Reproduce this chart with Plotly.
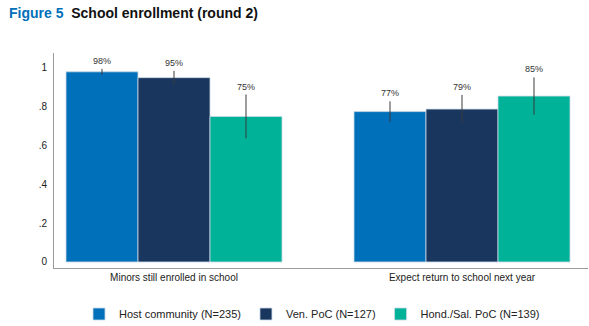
import plotly.graph_objects as go

categories = ["Minors still enrolled in school", "Expect return to school next year"]
series_names = ["Host community (N=235)", "Ven. PoC (N=127)", "Hond./Sal. PoC (N=139)"]
host_values = [0.98, 0.775]
ven_values = [0.95, 0.788]
hond_values = [0.75, 0.855]
host_err = [0.015, 0.053]
ven_err = [0.035, 0.073]
hond_err = [0.113, 0.096]
labels = [["98%", "77%"], ["95%", "79%"], ["75%", "85%"]]
y_ticks = [0, 0.2, 0.4, 0.6, 0.8, 1]
y_ticktext = ["0", ".2", ".4", ".6", ".8", "1"]

colors = ["#0070BA", "#19365E", "#00B398"]
values = [host_values, ven_values, hond_values]
errs = [host_err, ven_err, hond_err]

FONT = "Liberation Sans, Arial, sans-serif"
bargap = 0.25
xpos = list(range(len(categories)))

fig = go.Figure()
for i, name in enumerate(series_names):
    fig.add_trace(go.Bar(
        x=xpos, y=values[i], name=name,
        marker=dict(color=colors[i], line=dict(color="#c9d8e6", width=0.8)),
        error_y=dict(type="data", array=errs[i], visible=True,
                     color="#3a3a3a", thickness=1, width=0),
    ))

n = len(series_names)
bw = (1 - bargap) / n
for i in range(n):
    for j, xv in enumerate(xpos):
        fig.add_annotation(
            x=xv + (i - (n - 1) / 2) * bw, y=values[i][j] + errs[i][j],
            text=labels[i][j], showarrow=False, yanchor="bottom", yshift=1,
            font=dict(size=9, color="#333333", family=FONT),
        )

fig.update_layout(
    width=589, height=326,
    margin=dict(l=54, r=1, t=53, b=58),
    paper_bgcolor="white", plot_bgcolor="white",
    barmode="group", bargap=bargap, bargroupgap=0,
    font=dict(family=FONT, color="#222222"),
    title=dict(
        text="<b><span style='color:#0070BA'>Figure 5</span>&nbsp;&nbsp;School enrollment (round 2)</b>",
        x=9 / 589, xanchor="left", xref="container",
        y=1 - 13 / 326, yanchor="middle", yref="container",
        font=dict(size=14, color="#111111", family=FONT),
    ),
    xaxis=dict(
        range=[-0.4167, 1.4375], tickvals=xpos, ticktext=categories,
        showline=True, linecolor="#9a9a9a", linewidth=1,
        showgrid=False, zeroline=False, ticks="",
        tickfont=dict(size=10, color="#222222"),
    ),
    yaxis=dict(
        range=[-0.031, 1.077], tickvals=y_ticks, ticktext=y_ticktext,
        showline=True, linecolor="#9a9a9a", linewidth=1,
        showgrid=False, zeroline=False,
        ticks="outside", ticklen=4, tickcolor="rgba(0,0,0,0)",
        tickfont=dict(size=10, color="#222222"),
    ),
    legend=dict(
        orientation="h", xref="container", yref="container",
        x=312 / 589, xanchor="center", y=1 - 314 / 326, yanchor="middle",
        font=dict(size=11, color="#222222", family=FONT),
        traceorder="normal",
    ),
    showlegend=True,
)

fig.write_html("out.html")
